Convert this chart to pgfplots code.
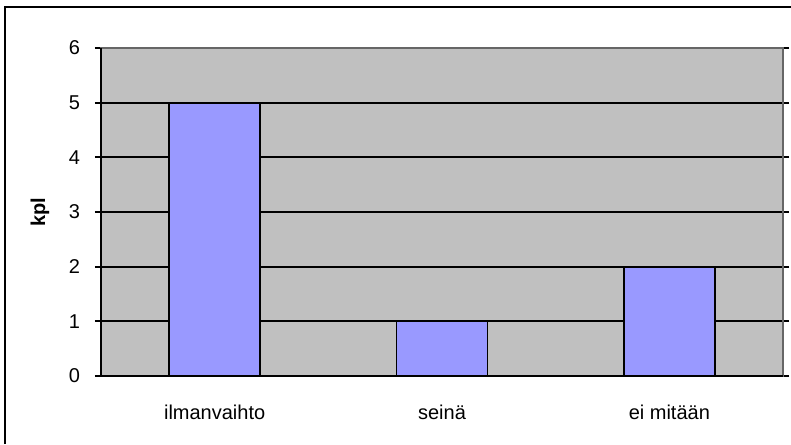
\documentclass[border=0pt]{standalone}
\usepackage{pgfplots}
\pgfplotsset{compat=1.18}
\usepackage{fontspec}
\setmainfont{Liberation Sans}
\definecolor{plotgray}{HTML}{C0C0C0}
\definecolor{barblue}{HTML}{9999FF}
\begin{document}
\fontsize{15}{18}\selectfont
\begin{tikzpicture}[x=0.75pt,y=0.75pt]
\useasboundingbox (-101,-68) rectangle (690,376);
\draw[line width=1.6pt] (-96,-68) -- (-96,369) -- (690,369);
\begin{axis}[
  at={(0pt,0pt)}, anchor=south west,
  scale only axis,
  width=511.5pt, height=246pt,
  xmin=-0.5, xmax=2.5, ymin=0, ymax=6,
  ytick={0,1,2,3,4,5,6},
  xtick={0,1,2},
  xticklabels={ilmanvaihto, seinä, ei mitään},
  extra x ticks={-0.5,0.5,1.5,2.5},
  extra x tick labels={},
  extra x tick style={major tick length=4.5pt, tick style={black, line width=1.3pt}},
  major x tick style={draw=none},
  major tick length=4.5pt,
  tick align=outside,
  tick style={black, line width=1.3pt},
  axis background/.style={fill=plotgray},
  axis line style={draw=gray!80!black, line width=1pt},
  ymajorgrids,
  grid style={black, line width=1.5pt},
  /pgf/number format/assume math mode=true,
  ticklabel style={font=\fontsize{15}{18}\selectfont},
  yticklabel style={xshift=-6pt},
  xticklabel style={yshift=-12pt},
  ylabel={\textbf{kpl}},
  ylabel style={at={(axis description cs:-0.0894,0.5)}, anchor=center, font=\fontsize{15}{18}\selectfont},
  clip=false,
]
\addplot[ybar, bar width=0.4, fill=barblue, draw=black, line width=1.3pt]
  coordinates {(0,5) (1,1) (2,2)};
\draw[gray!80!black, line width=1pt] (rel axis cs:0,1) -- (rel axis cs:1,1) -- (rel axis cs:1,0);
\draw[black, line width=1.5pt] (rel axis cs:0,1) -- (rel axis cs:0,0) -- (rel axis cs:1,0);
\end{axis}
\end{tikzpicture}
\end{document}
